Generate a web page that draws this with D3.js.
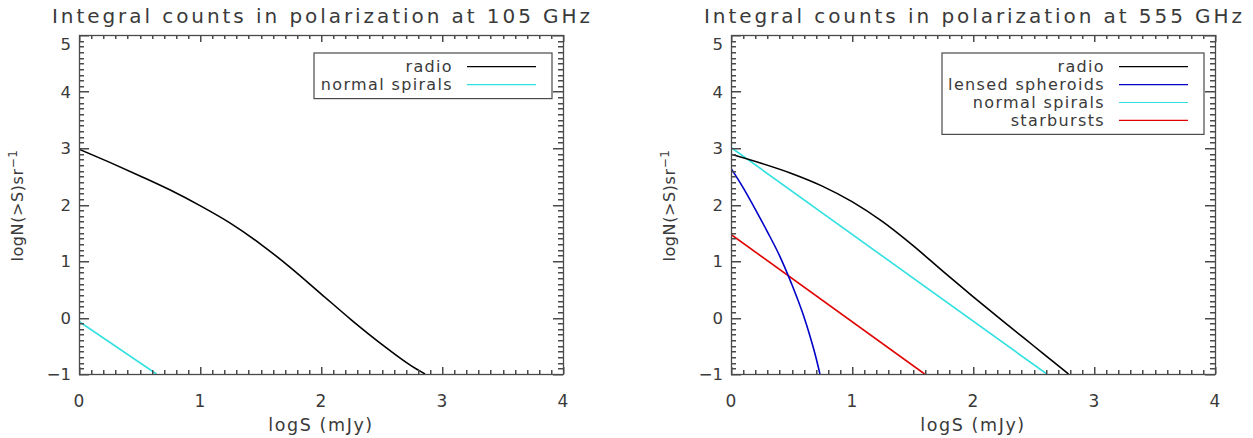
<!DOCTYPE html>
<html><head><meta charset="utf-8">
<script src="https://cdn.jsdelivr.net/npm/d3@7/dist/d3.min.js"></script>
<style>
html,body{margin:0;padding:0;background:#fff;}
svg text{font-family:"DejaVu Sans",sans-serif;fill:#3a3a3a;}
</style></head>
<body>
<svg id="chart" width="1253" height="438"></svg>
<script>
// ---- data ----
const xTickValues = [0, 1, 2, 3, 4];
const yTickValues = [-1, 0, 1, 2, 3, 4, 5];
const xTickLabels = ["0", "1", "2", "3", "4"];
const yTickLabels = ["\u22121", "0", "1", "2", "3", "4", "5"];

const titles = ["Integral counts in polarization at 105 GHz", "Integral counts in polarization at 555 GHz"];
const xLabel = "logS (mJy)";

// 105 GHz
const logS105Radio = [0, 0.25, 0.5, 0.75, 1.0, 1.25, 1.5, 1.75, 2.0, 2.25, 2.5, 2.75, 2.86];
const radio105 =     [2.98, 2.75, 2.51, 2.26, 1.98, 1.67, 1.30, 0.88, 0.42, -0.04, -0.47, -0.86, -1.0];
const logS105Spirals = [0, 0.64];
const spirals105 =     [-0.07, -1.0];
const logS105Starbursts = [0, 0.05];
const starbursts105 =     [-1.0, -1.08];

// 555 GHz
const logS555Radio = [0, 0.25, 0.5, 0.75, 1.0, 1.25, 1.5, 1.75, 2.0, 2.25, 2.5, 2.75, 2.79];
const radio555 =     [2.89, 2.73, 2.55, 2.33, 2.05, 1.70, 1.28, 0.82, 0.37, -0.07, -0.50, -0.93, -1.0];
const logS555Lensed = [0, 0.1, 0.2, 0.3, 0.4, 0.5, 0.6, 0.65, 0.7, 0.735];
const lensed555 =     [2.64, 2.30, 1.92, 1.52, 1.10, 0.60, 0.03, -0.31, -0.69, -1.0];
const logS555Spirals = [0, 2.61];
const spirals555 =     [3.01, -1.0];
const logS555Starbursts = [0, 1.60];
const starbursts555 =     [1.47, -1.0];

const seriesColors = {"radio": "#000000", "lensed spheroids": "#0000c8", "normal spirals": "#30e0e0", "starbursts": "#e00000"};

const panels = [
  {title: titles[0], left: 79, legend: ["radio", "normal spirals"],
   series: [
     {name: "starbursts", x: logS105Starbursts, y: starbursts105},
     {name: "normal spirals", x: logS105Spirals, y: spirals105},
     {name: "radio", x: logS105Radio, y: radio105}]},
  {title: titles[1], left: 731, legend: ["radio", "lensed spheroids", "normal spirals", "starbursts"],
   series: [
     {name: "starbursts", x: logS555Starbursts, y: starbursts555},
     {name: "lensed spheroids", x: logS555Lensed, y: lensed555},
     {name: "normal spirals", x: logS555Spirals, y: spirals555},
     {name: "radio", x: logS555Radio, y: radio555}]}
];

const svg = d3.select("#chart");
const PW = 484, PT = 35, PB = 374;
const axisColor = "#4a4a4a";

panels.forEach((p, pi) => {
  const x = d3.scaleLinear().domain([0, 4]).range([p.left, p.left + PW]);
  const y = d3.scaleLinear().domain([-1, 5]).range([PB, PT]);
  const H = PB - PT;
  const g = svg.append("g");

  const clipId = "clip" + pi;
  svg.append("clipPath").attr("id", clipId).append("rect")
    .attr("x", p.left).attr("y", PT).attr("width", PW).attr("height", H);

  // lines
  const line = d3.line().x(d => x(d[0])).y(d => y(d[1])).curve(d3.curveMonotoneX);
  const lg = g.append("g").attr("clip-path", `url(#${clipId})`);
  p.series.forEach(s => {
    const pts = s.x.map((v, i) => [v, s.y[i]]);
    lg.append("path").attr("d", line(pts)).attr("fill", "none")
      .attr("stroke", seriesColors[s.name]).attr("stroke-width", 1.6);
  });

  // frame
  g.append("rect").attr("x", p.left + 0.5).attr("y", PT + 0.5).attr("width", PW).attr("height", H)
    .attr("fill", "none").attr("stroke", axisColor).attr("stroke-width", 1.3);

  // ticks as small filled rectangles (major every 1, minor every 0.1), inward on all sides
  const xT = d3.range(0, 41).map(i => ({v: i / 10, major: i % 10 === 0}));
  const yT = d3.range(-10, 51).map(i => ({v: i / 10, major: i % 10 === 0}));
  const xMaj = 7, xMin = 4, yMaj = 10, yMin = 5, tw = 1.5;
  const tickG = g.append("g").attr("fill", axisColor);
  tickG.selectAll(null).data(xT).enter().append("rect")
    .attr("x", d => Math.round(x(d.v))).attr("width", tw)
    .attr("y", d => PB - (d.major ? xMaj : xMin)).attr("height", d => (d.major ? xMaj : xMin));
  tickG.selectAll(null).data(xT).enter().append("rect")
    .attr("x", d => Math.round(x(d.v))).attr("width", tw)
    .attr("y", PT).attr("height", d => (d.major ? xMaj : xMin));
  tickG.selectAll(null).data(yT).enter().append("rect")
    .attr("y", d => Math.round(y(d.v))).attr("height", tw)
    .attr("x", p.left).attr("width", d => (d.major ? yMaj : yMin));
  tickG.selectAll(null).data(yT).enter().append("rect")
    .attr("y", d => Math.round(y(d.v))).attr("height", tw)
    .attr("x", d => p.left + PW - (d.major ? yMaj : yMin)).attr("width", d => (d.major ? yMaj : yMin));

  // tick labels
  g.selectAll(null).data(xTickValues).enter().append("text")
    .attr("x", d => x(d)).attr("y", 407).attr("text-anchor", "middle")
    .attr("font-size", 17).text((d, i) => xTickLabels[i]);
  g.selectAll(null).data(yTickValues).enter().append("text")
    .attr("x", p.left - 8).attr("y", d => (d === 5 ? y(d) + 9 : y(d)) + 6).attr("text-anchor", "end")
    .attr("font-size", 16.5).text((d, i) => yTickLabels[i]);

  // axis titles
  g.append("text").attr("x", p.left + PW / 2).attr("y", 431).attr("text-anchor", "middle")
    .attr("font-size", 17.5).attr("letter-spacing", 1.6).text(xLabel);
  const yl = g.append("text").attr("transform", `translate(${p.left - 56},${(PT + PB) / 2 + 1}) rotate(-90)`)
    .attr("text-anchor", "middle").attr("font-size", 16).attr("letter-spacing", 0.6);
  yl.append("tspan").text("logN(>S)sr");
  yl.append("tspan").attr("dy", -6).attr("font-size", 12).text("\u22121");

  // title
  g.append("text").attr("x", p.left + PW / 2).attr("y", 23).attr("text-anchor", "middle")
    .attr("font-size", 20).attr("textLength", 538).attr("lengthAdjust", "spacing")
    .text(p.title);

  // legend
  const boxRight = p.left + PW - 11;
  const boxLeft = pi === 0 ? 314 : 942;
  const rowY0 = 66.7, rowStep = 17.9;
  const nRows = p.legend.length;
  g.append("rect").attr("x", boxLeft).attr("y", 53).attr("width", boxRight - boxLeft)
    .attr("height", rowY0 + (nRows - 1) * rowStep + 14 - 53)
    .attr("fill", "#fff").attr("stroke", axisColor).attr("stroke-width", 1.2);
  p.legend.forEach((name, i) => {
    const ry = rowY0 + i * rowStep;
    g.append("text").attr("x", boxRight - 99).attr("y", ry + 5.5).attr("text-anchor", "end")
      .attr("font-size", 16).attr("letter-spacing", 1.35).text(name);
    g.append("line").attr("x1", boxRight - 85).attr("x2", boxRight - 16)
      .attr("y1", ry).attr("y2", ry).attr("stroke", seriesColors[name]).attr("stroke-width", 1.2);
  });
});
</script>
</body></html>
